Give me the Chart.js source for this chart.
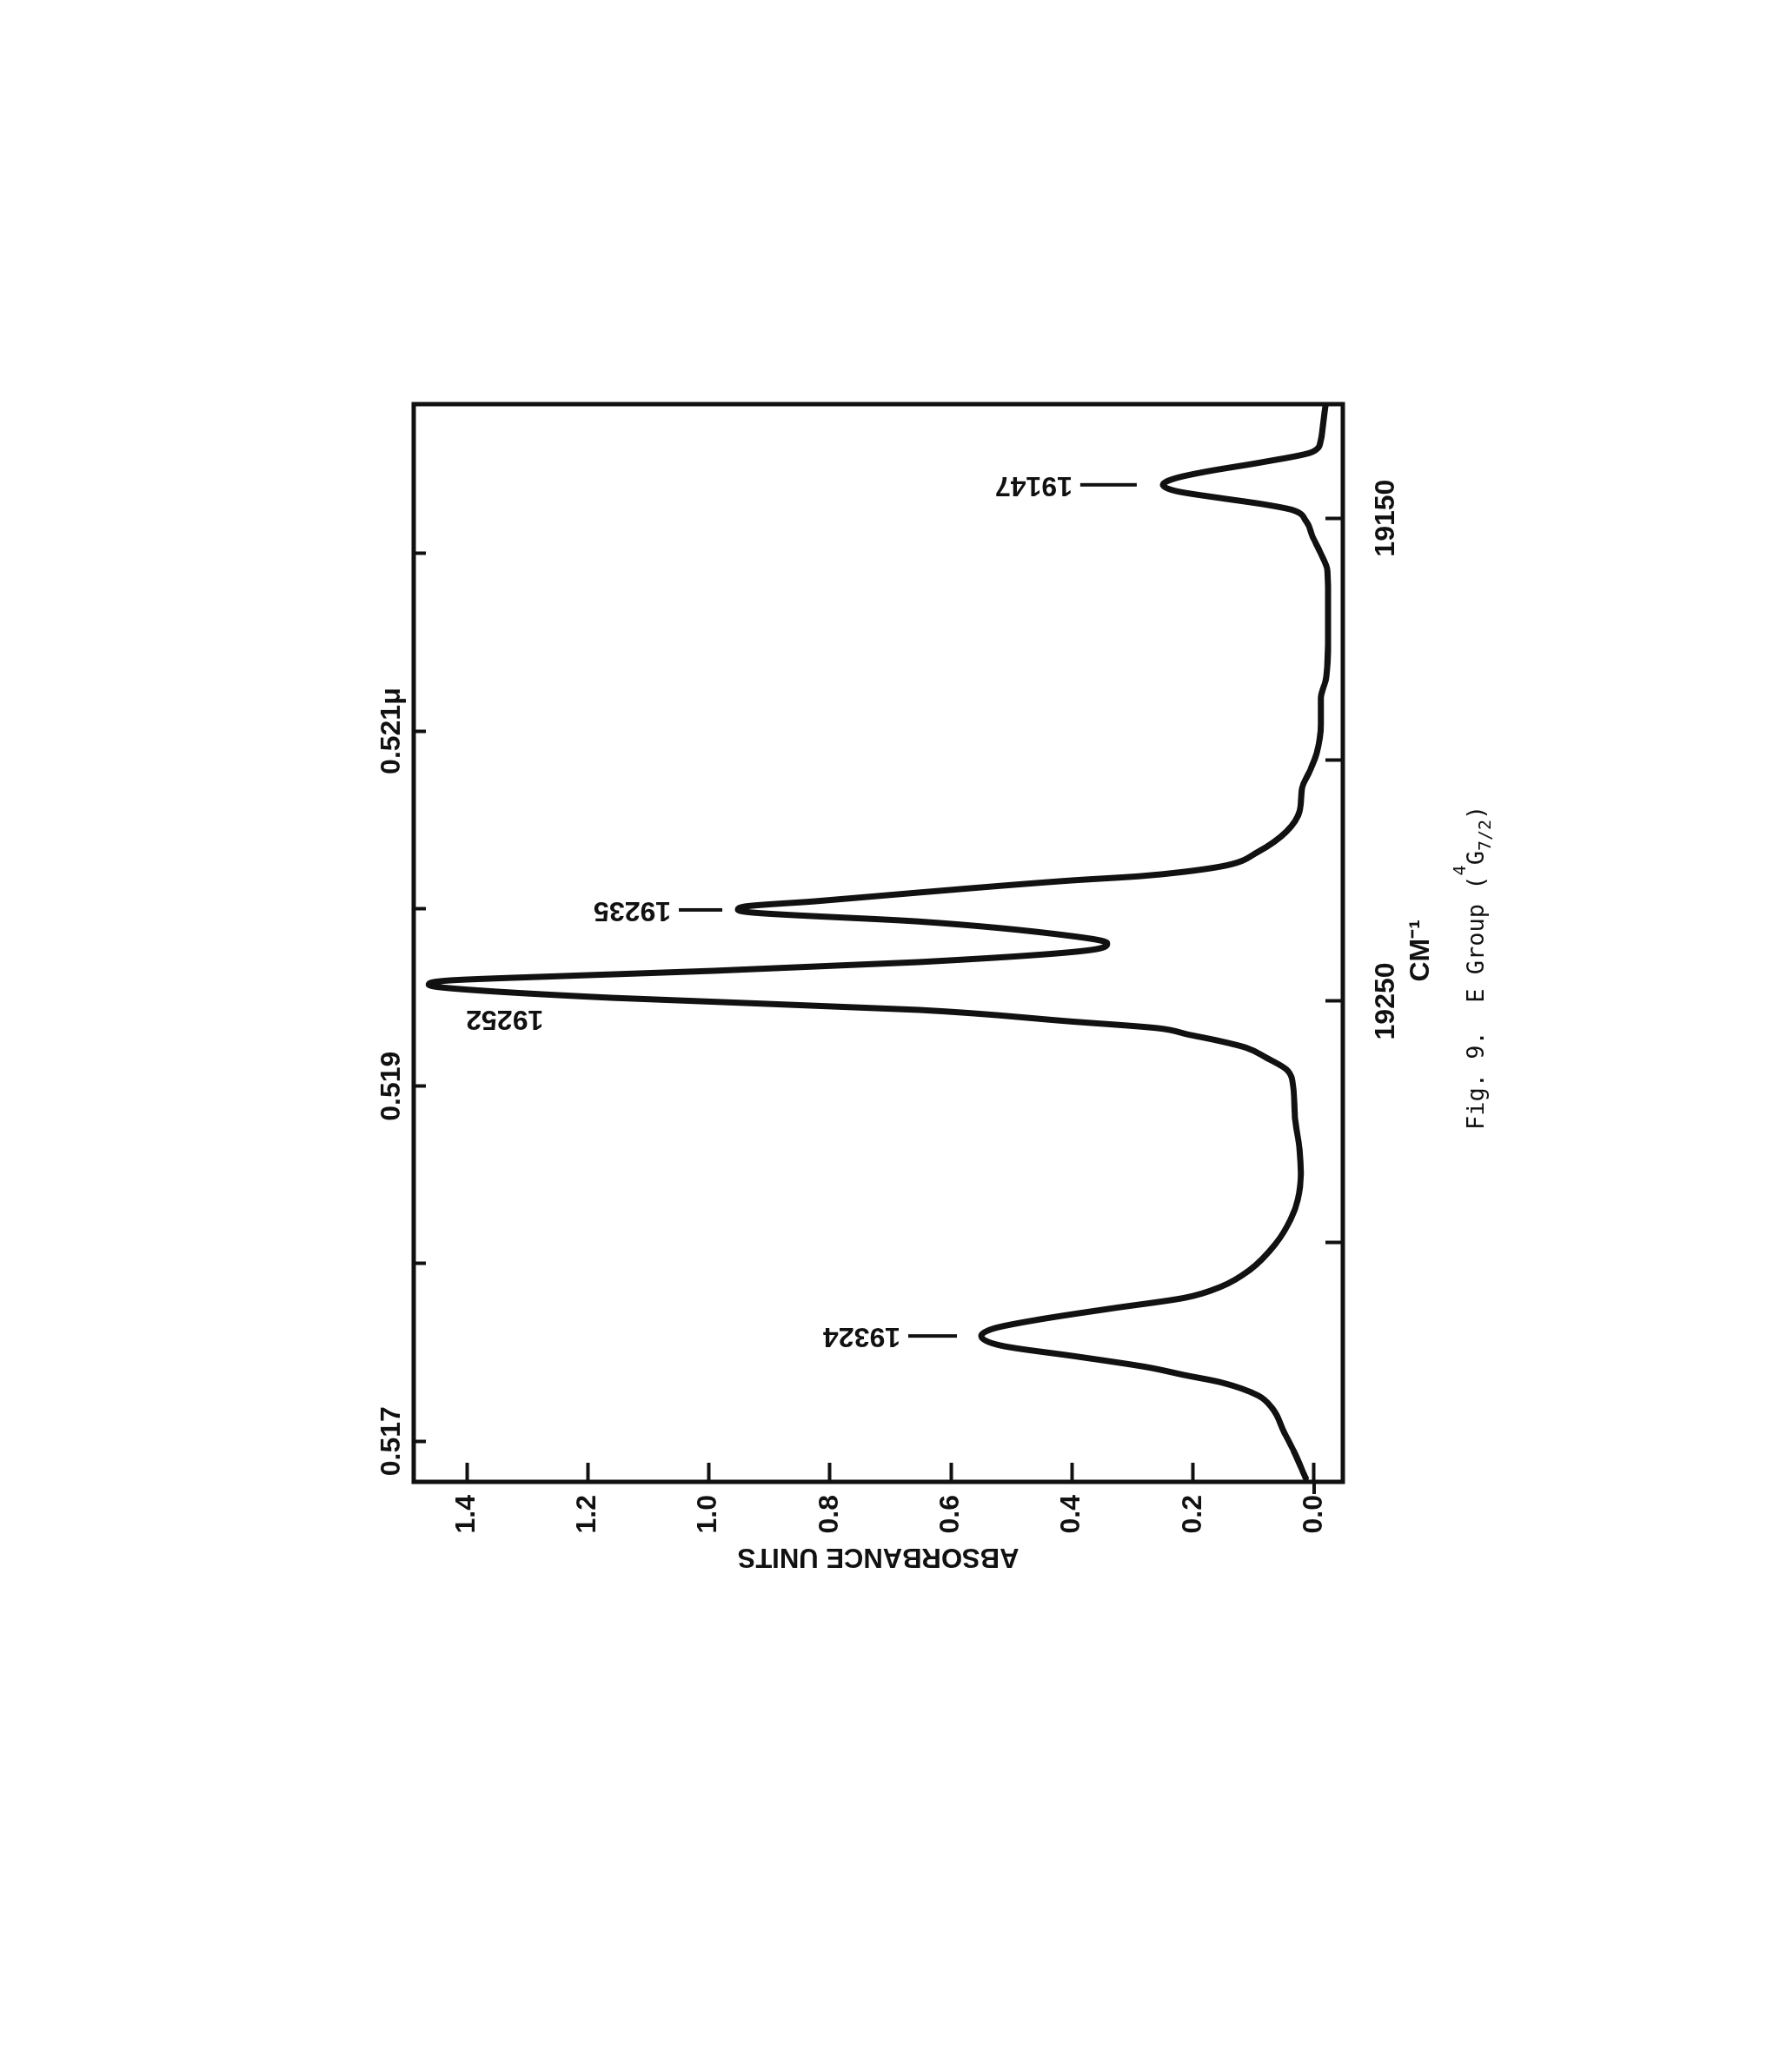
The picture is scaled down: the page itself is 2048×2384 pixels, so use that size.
<!DOCTYPE html>
<html>
<head>
<meta charset="utf-8">
<script src="https://cdn.jsdelivr.net/npm/chart.js@4.4.1/dist/chart.umd.min.js"></script>
<style>
  html, body { margin: 0; padding: 0; background: #fff; }
  body { width: 2048px; height: 2384px; overflow: hidden; position: relative; }
  /* the figure is printed turned a quarter turn on the page */
  #page { position: absolute; left: 0; top: 0; width: 2384px; height: 2048px;
          transform-origin: 0 0; transform: translate(0px, 2384px) rotate(-90deg); }
  #spectrum { position: absolute; left: 0; top: 0; }
  #caption { position: absolute; left: 1084px; top: 1684px; color: #111;
             font: 27px "DejaVu Sans Mono", monospace; line-height: 27px; white-space: pre; }
  #caption .sup { font-size: 20px; position: relative; top: -21px; }
  #caption .sub { font-size: 20px; position: relative; top: 8px; }
</style>
</head>
<body>
<div id="page">
  <canvas id="spectrum" width="2384" height="2048"></canvas>
  <div id="caption">Fig. 9.  E Group (<span class="sup">4</span>G<span class="sub">7/2</span>)</div>
</div>
<script>
// trace: wavenumber (cm-1) vs absorbance
const wavenumbers = [
  19126.4, 19131.4, 19133.9, 19136.3, 19138.4, 19140.4, 19141.7, 19143.1, 19144.4, 19145.8,
  19147.1, 19148.3, 19150.7, 19153.7, 19157.3, 19160.9, 19165.6, 19174.6, 19183.6, 19187.2,
  19192.6, 19198.7, 19202.3, 19205.9, 19210.6, 19214.9, 19219.1, 19221.8, 19223.2, 19224.1,
  19225.0, 19227.5, 19229.3, 19230.4, 19231.1, 19231.7, 19233.5, 19236.5, 19238.0, 19239.2,
  19241.9, 19243.7, 19244.8, 19245.7, 19246.6, 19247.3, 19249.3, 19251.8, 19254.2, 19255.6,
  19256.9, 19258.1, 19259.6, 19261.7, 19264.1, 19266.4, 19273.6, 19280.8, 19285.7, 19291.1,
  19295.2, 19300.1, 19305.5, 19309.1, 19311.4, 19313.6, 19315.9, 19317.7, 19319.3, 19321.3,
  19323.5, 19325.8, 19327.4, 19328.9, 19331.6, 19334.3, 19339.1, 19343.3, 19348.7
];
const absorbance = [
  -0.019, -0.014, -0.011, 0.003, 0.085, 0.180, 0.228, 0.250, 0.228, 0.157,
  0.085, 0.036, 0.013, 0.003, -0.011, -0.022, -0.023, -0.023, -0.019, -0.011,
  -0.011, -0.004, 0.007, 0.020, 0.024, 0.046, 0.093, 0.142, 0.214, 0.286,
  0.401, 0.653, 0.823, 0.941, 0.952, 0.923, 0.653, 0.401, 0.342, 0.359,
  0.653, 0.991, 1.244, 1.429, 1.463, 1.429, 1.159, 0.653, 0.401, 0.257,
  0.208, 0.161, 0.113, 0.079, 0.046, 0.036, 0.032, 0.024, 0.022, 0.027,
  0.039, 0.063, 0.105, 0.154, 0.214, 0.335, 0.455, 0.528, 0.550, 0.517,
  0.395, 0.274, 0.214, 0.154, 0.093, 0.069, 0.050, 0.033, 0.014
];

const absTicks = [0, 0.2, 0.4, 0.6, 0.8, 1.0, 1.2, 1.4];
const cmTicks = [19150, 19200, 19250, 19300];
const cmTickLabels = ['19150', '', '19250', ''];
const micronTicks = [0.517, 0.518, 0.519, 0.520, 0.521, 0.522];
const micronTickLabels = ['0.517', '', '0.519', '', '0.521\u03bc', ''];

const peakLabels = ['19147', '19235', '19252', '19324'];
const peakWavenumbers = [19143.1, 19231.1, 19246.6, 19319.3];

const FONT = "'Liberation Sans', Arial, sans-serif";
const INK = '#111';

function fixedTicks(values) {
  return function (scale) {
    scale.ticks = values.map(v => ({ value: v }));
  };
}

// leader line + label for each peak (pixel offsets only)
const peakLayout = {
  '19147': { gap: 30, dash: 65 },
  '19235': { gap: 18, dash: 50 },
  '19324': { gap: 28, dash: 56 },
  '19252': { dx: -39, dy: 132 }
};

const peakPlugin = {
  id: 'peaks',
  afterDatasetsDraw(chart) {
    const { ctx, scales: { x, y } } = chart;
    ctx.save();
    ctx.fillStyle = INK;
    ctx.strokeStyle = INK;
    ctx.lineWidth = 4;
    ctx.font = 'bold 32px ' + FONT;
    peakLabels.forEach((label, i) => {
      const nu = peakWavenumbers[i];
      const k = wavenumbers.indexOf(nu);
      const px = x.getPixelForValue(nu);
      const py = y.getPixelForValue(absorbance[k]);
      const lay = peakLayout[label];
      let tx = px, ty;
      if (lay.dash) {
        const end = py - lay.gap - lay.dash;
        ctx.beginPath();
        ctx.moveTo(px, py - lay.gap);
        ctx.lineTo(px, end);
        ctx.stroke();
        ty = end - 9;
      } else {
        tx = px + lay.dx;
        ty = py + lay.dy;
      }
      ctx.save();
      ctx.translate(tx, ty);
      ctx.rotate(-Math.PI / 2);
      ctx.textAlign = 'left';
      ctx.textBaseline = 'middle';
      ctx.fillText(label, 0, 0);
      ctx.restore();
    });
    ctx.restore();
  }
};

// box round the plot, plus the zero tick that sticks outside
const framePlugin = {
  id: 'frame',
  afterDraw(chart) {
    const { ctx, chartArea: a, scales } = chart;
    ctx.save();
    ctx.strokeStyle = INK;
    ctx.lineWidth = 5;
    ctx.strokeRect(a.left, a.top, a.right - a.left, a.bottom - a.top);
    const y0 = scales.y.getPixelForValue(0);
    ctx.lineWidth = 4;
    ctx.beginPath();
    ctx.moveTo(a.left, y0);
    ctx.lineTo(a.left - 14, y0);
    ctx.stroke();
    ctx.restore();
  }
};

const ctx = document.getElementById('spectrum').getContext('2d');
const spectrumChart = new Chart(ctx, {
  type: 'scatter',
  data: {
    datasets: [{
      data: wavenumbers.map((w, i) => ({ x: w, y: absorbance[i] })),
      showLine: true,
      borderColor: INK,
      borderWidth: 7,
      borderJoinStyle: 'round',
      borderCapStyle: 'round',
      pointRadius: 0,
      cubicInterpolationMode: 'monotone'
    }]
  },
  options: {
    responsive: false,
    devicePixelRatio: 1,
    animation: false,
    layout: { padding: { left: 0, right: 465, top: 0, bottom: 0 } },
    plugins: { legend: { display: false }, tooltip: { enabled: false } },
    scales: {
      x: {
        type: 'linear',
        position: 'bottom',
        reverse: true,
        min: 19126.4,
        max: 19349.5,
        afterBuildTicks: fixedTicks(cmTicks),
        afterFit: s => { s.height = 503; },
        border: { display: false },
        grid: { drawOnChartArea: false, drawTicks: true, tickLength: -20, tickWidth: 4, color: INK },
        ticks: {
          autoSkip: false, maxRotation: 0, padding: 51, color: INK,
          font: { family: FONT, size: 32, weight: 'bold' },
          callback: (v, i) => cmTickLabels[i]
        },
        title: {
          display: true, text: 'CM\u207b\u00b9  ', color: INK,
          font: { family: FONT, size: 32, weight: 'bold' },
          padding: { top: 0, bottom: 394 }
        }
      },
      wl: {
        type: 'linear',
        position: 'top',
        min: 0.516771,
        max: 0.522841,
        afterBuildTicks: fixedTicks(micronTicks),
        afterFit: s => { s.height = 476; },
        border: { display: false },
        grid: { drawOnChartArea: false, drawTicks: true, tickLength: -14, tickWidth: 4, color: INK },
        ticks: {
          autoSkip: false, maxRotation: 0, padding: 20, color: INK,
          font: { family: FONT, size: 32, weight: 'bold' },
          callback: (v, i) => micronTickLabels[i]
        }
      },
      y: {
        type: 'linear',
        position: 'left',
        min: -0.0474,
        max: 1.4877,
        afterBuildTicks: fixedTicks(absTicks),
        afterFit: s => { s.width = 679; },
        border: { display: false },
        grid: { drawOnChartArea: false, drawTicks: true, tickLength: -22, tickWidth: 4, color: INK },
        ticks: {
          autoSkip: false, padding: 37, color: INK,
          font: { family: FONT, size: 32, weight: 'bold' },
          callback: v => v.toFixed(1)
        },
        title: {
          display: true, text: 'ABSORBANCE UNITS', color: INK,
          font: { family: FONT, size: 31, weight: 'bold' },
          padding: { top: 575, bottom: 0 }
        }
      }
    }
  },
  plugins: [peakPlugin, framePlugin]
});
</script>
</body>
</html>
